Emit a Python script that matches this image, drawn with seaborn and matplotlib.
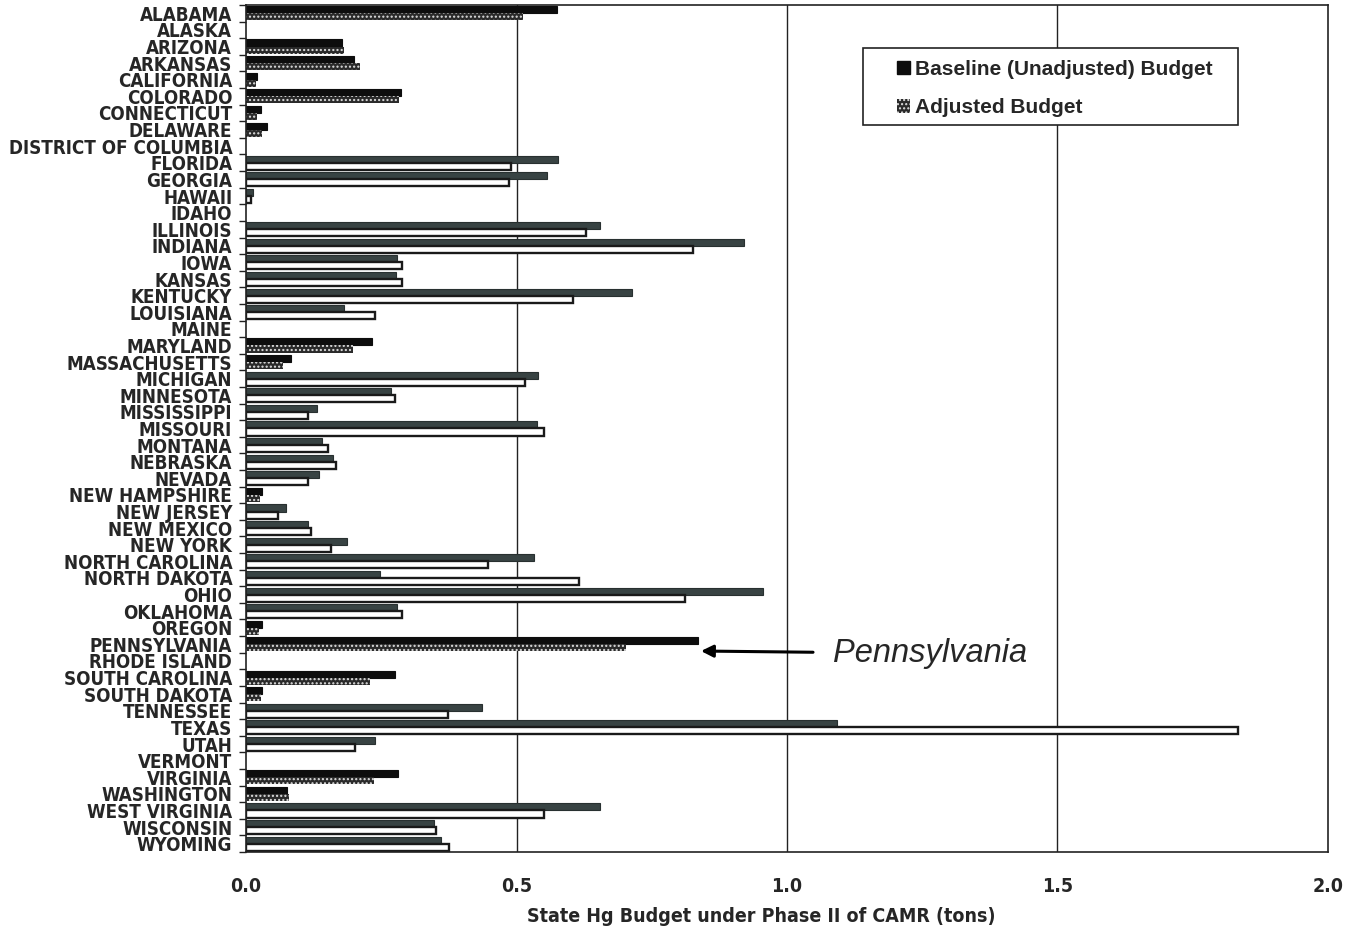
import matplotlib
matplotlib.use("Agg")
import matplotlib.pyplot as plt
from matplotlib import font_manager
from matplotlib.font_manager import FontProperties
from matplotlib.patches import Patch, Rectangle
import numpy as np
import pandas as pd
import seaborn as sns

# State mercury budgets under Phase II of CAMR (tons)
states = [
    "ALABAMA", "ALASKA", "ARIZONA", "ARKANSAS", "CALIFORNIA", "COLORADO",
    "CONNECTICUT", "DELAWARE", "DISTRICT OF COLUMBIA", "FLORIDA", "GEORGIA",
    "HAWAII", "IDAHO", "ILLINOIS", "INDIANA", "IOWA", "KANSAS", "KENTUCKY",
    "LOUISIANA", "MAINE", "MARYLAND", "MASSACHUSETTS", "MICHIGAN", "MINNESOTA",
    "MISSISSIPPI", "MISSOURI", "MONTANA", "NEBRASKA", "NEVADA", "NEW HAMPSHIRE",
    "NEW JERSEY", "NEW MEXICO", "NEW YORK", "NORTH CAROLINA", "NORTH DAKOTA",
    "OHIO", "OKLAHOMA", "OREGON", "PENNSYLVANIA", "RHODE ISLAND",
    "SOUTH CAROLINA", "SOUTH DAKOTA", "TENNESSEE", "TEXAS", "UTAH", "VERMONT",
    "VIRGINIA", "WASHINGTON", "WEST VIRGINIA", "WISCONSIN", "WYOMING",
]

baseline = [
    0.575, 0.0, 0.177, 0.200, 0.021, 0.286,
    0.027, 0.038, 0.0, 0.577, 0.556,
    0.012, 0.0, 0.655, 0.921, 0.280, 0.278, 0.714,
    0.182, 0.0, 0.233, 0.083, 0.540, 0.268,
    0.131, 0.538, 0.140, 0.160, 0.135, 0.030,
    0.073, 0.115, 0.187, 0.532, 0.247,
    0.956, 0.280, 0.030, 0.836, 0.0,
    0.275, 0.030, 0.436, 1.092, 0.238, 0.0,
    0.281, 0.076, 0.655, 0.348, 0.361,
]

adjusted = [
    0.512, 0.0, 0.182, 0.210, 0.018, 0.282,
    0.020, 0.030, 0.0, 0.489, 0.486,
    0.010, 0.0, 0.628, 0.827, 0.289, 0.288, 0.604,
    0.238, 0.0, 0.197, 0.068, 0.516, 0.276,
    0.115, 0.550, 0.151, 0.167, 0.115, 0.026,
    0.060, 0.120, 0.158, 0.447, 0.616,
    0.811, 0.288, 0.024, 0.702, 0.0,
    0.230, 0.028, 0.373, 1.834, 0.201, 0.0,
    0.237, 0.080, 0.550, 0.352, 0.376,
]

series_names = ["Baseline (Unadjusted) Budget", "Adjusted Budget"]
xticks = [0.0, 0.5, 1.0, 1.5, 2.0]
xtick_labels = ["0.0", "0.5", "1.0", "1.5", "2.0"]
xlabel = "State Hg Budget under Phase II of CAMR (tons)"

# States printed with solid black / speckled bars
solid_states = {
    "ALABAMA", "ARIZONA", "ARKANSAS", "CALIFORNIA", "COLORADO", "CONNECTICUT",
    "DELAWARE", "MARYLAND", "MASSACHUSETTS", "NEW HAMPSHIRE", "OREGON",
    "PENNSYLVANIA", "SOUTH CAROLINA", "SOUTH DAKOTA", "VIRGINIA", "WASHINGTON",
}


def find_condensed_bold():
    """Return a FontProperties for a bold narrow/condensed face if one exists."""
    entries = font_manager.fontManager.ttflist
    wanted = ["Liberation Sans Narrow", "Arial Narrow", "Noto Sans",
              "DejaVu Sans", "Open Sans", "Roboto", "Inter", "Lato"]
    cands = []
    for e in entries:
        w = e.weight if isinstance(e.weight, int) else 400
        if str(e.weight).lower() == "bold":
            w = 700
        stretch = str(e.stretch).lower()
        narrow = ("narrow" in e.name.lower() or "condensed" in e.name.lower()
                  or "condensed" in stretch or "narrow" in e.fname.lower()
                  or "condensed" in e.fname.lower())
        if not narrow or e.style != "normal":
            continue
        if "semi" in e.fname.lower() or "extra" in e.fname.lower():
            continue
        rank = next((i for i, n in enumerate(wanted) if e.name.startswith(n)),
                    len(wanted))
        cands.append((rank, abs(w - 700), e.fname))
    if cands:
        cands.sort()
        return FontProperties(fname=cands[0][2]), True
    return FontProperties(family="DejaVu Sans", weight="bold"), False


cond_fp, have_cond = find_condensed_bold()

df = pd.DataFrame({"State": states, series_names[0]: baseline,
                   series_names[1]: adjusted})
long = df.melt(id_vars="State", var_name="Series", value_name="Budget")

sns.set_theme(style="white")
plt.rcParams["font.family"] = ["Liberation Sans", "DejaVu Sans"]
plt.rcParams["hatch.linewidth"] = 1.0

fig = plt.figure(figsize=(13.57, 9.30), dpi=100)
ax = fig.add_axes([0.1813, 0.0839, 0.7973, 0.9107])

sns.barplot(data=long, y="State", x="Budget", hue="Series", orient="h",
            palette=["#111111", "#777777"], width=0.85, saturation=1,
            legend=False, ax=ax, errorbar=None)

# restyle individual bars
base_bars, adj_bars = ax.containers[0], ax.containers[1]
for st, b, a, vb, va in zip(states, base_bars, adj_bars, baseline, adjusted):
    if st in solid_states:
        b.set_facecolor("#0d0d0d")
        b.set_edgecolor("#0d0d0d")
        b.set_linewidth(0.8)
        a.set_facecolor("#2a2a2a")
        a.set_edgecolor("#e0e0e0")
        a.set_hatch("....")
        a.set_linewidth(0)
    else:
        b.set_facecolor("#384343")
        b.set_edgecolor("#283030")
        b.set_linewidth(0.8)
        a.set_facecolor("white")
        a.set_edgecolor("#1a1a1a")
        a.set_linewidth(1.7)
    if vb == 0:
        b.set_linewidth(0)
    if va == 0:
        a.set_linewidth(0)

ax.set_xlim(0, 2.0)
ax.set_ylim(len(states) - 0.5, -0.5)

# vertical gridlines
for gx in xticks[1:-1]:
    ax.axvline(gx, color="#222222", lw=1.0, zorder=0)

for sp in ax.spines.values():
    sp.set_visible(True)
    sp.set_color("#222222")
    sp.set_linewidth(1.2)

lab_size = 13.5 if have_cond else 11

ax.set_xticks(xticks)
ax.set_xticklabels(xtick_labels)
for lab in ax.get_xticklabels():
    lab.set_fontproperties(cond_fp)
    lab.set_fontsize(14 if have_cond else 12)
ax.tick_params(axis="x", length=0, pad=18)

ax.set_yticks(np.arange(len(states)))
ax.set_yticklabels(states)
for lab in ax.get_yticklabels():
    lab.set_fontproperties(cond_fp)
    lab.set_fontsize(lab_size)
ax.set_yticks(np.arange(len(states) + 1) - 0.5, minor=True)
ax.tick_params(axis="y", which="major", length=0, pad=10)
ax.tick_params(axis="y", which="minor", length=5, width=1.0,
               color="#222222", left=True)

xl = ax.set_xlabel(xlabel)
xl.set_fontproperties(cond_fp)
xl.set_fontsize(14 if have_cond else 12)
ax.xaxis.set_label_coords(0.476, -0.065)
ax.set_ylabel("")

# legend: entries without frame, box drawn separately
handles = [
    Patch(facecolor="#0d0d0d", edgecolor="#0d0d0d", label=series_names[0]),
    Patch(facecolor="#2a2a2a", edgecolor="#e0e0e0", hatch="....",
          linewidth=0, label=series_names[1]),
]
ax.add_patch(Rectangle((0.5702, 0.8583), 0.3466, 0.0909,
                       transform=ax.transAxes, facecolor="white",
                       edgecolor="#222222", linewidth=1.2, zorder=4))
leg = ax.legend(handles=handles, loc="upper left",
                bbox_to_anchor=(0.6017, 0.9356), frameon=False,
                prop={"weight": "bold", "size": 15},
                handlelength=0.6, handleheight=0.6, handletextpad=0.25,
                labelspacing=0.95, borderpad=0, borderaxespad=0)
leg.set_zorder(5)

# callout for Pennsylvania
pa = states.index("PENNSYLVANIA")
ax.annotate("Pennsylvania", xy=(baseline[pa] + 0.005, pa + 0.4),
            xytext=(1.085, pa + 0.55), ha="left", va="center",
            fontsize=23.5, fontstyle="italic",
            arrowprops=dict(arrowstyle="-|>", color="black", lw=2.2,
                            mutation_scale=18, shrinkA=12, shrinkB=0,
                            connectionstyle="arc3,rad=0"))

fig.savefig("out.png", dpi=100, facecolor="white")
